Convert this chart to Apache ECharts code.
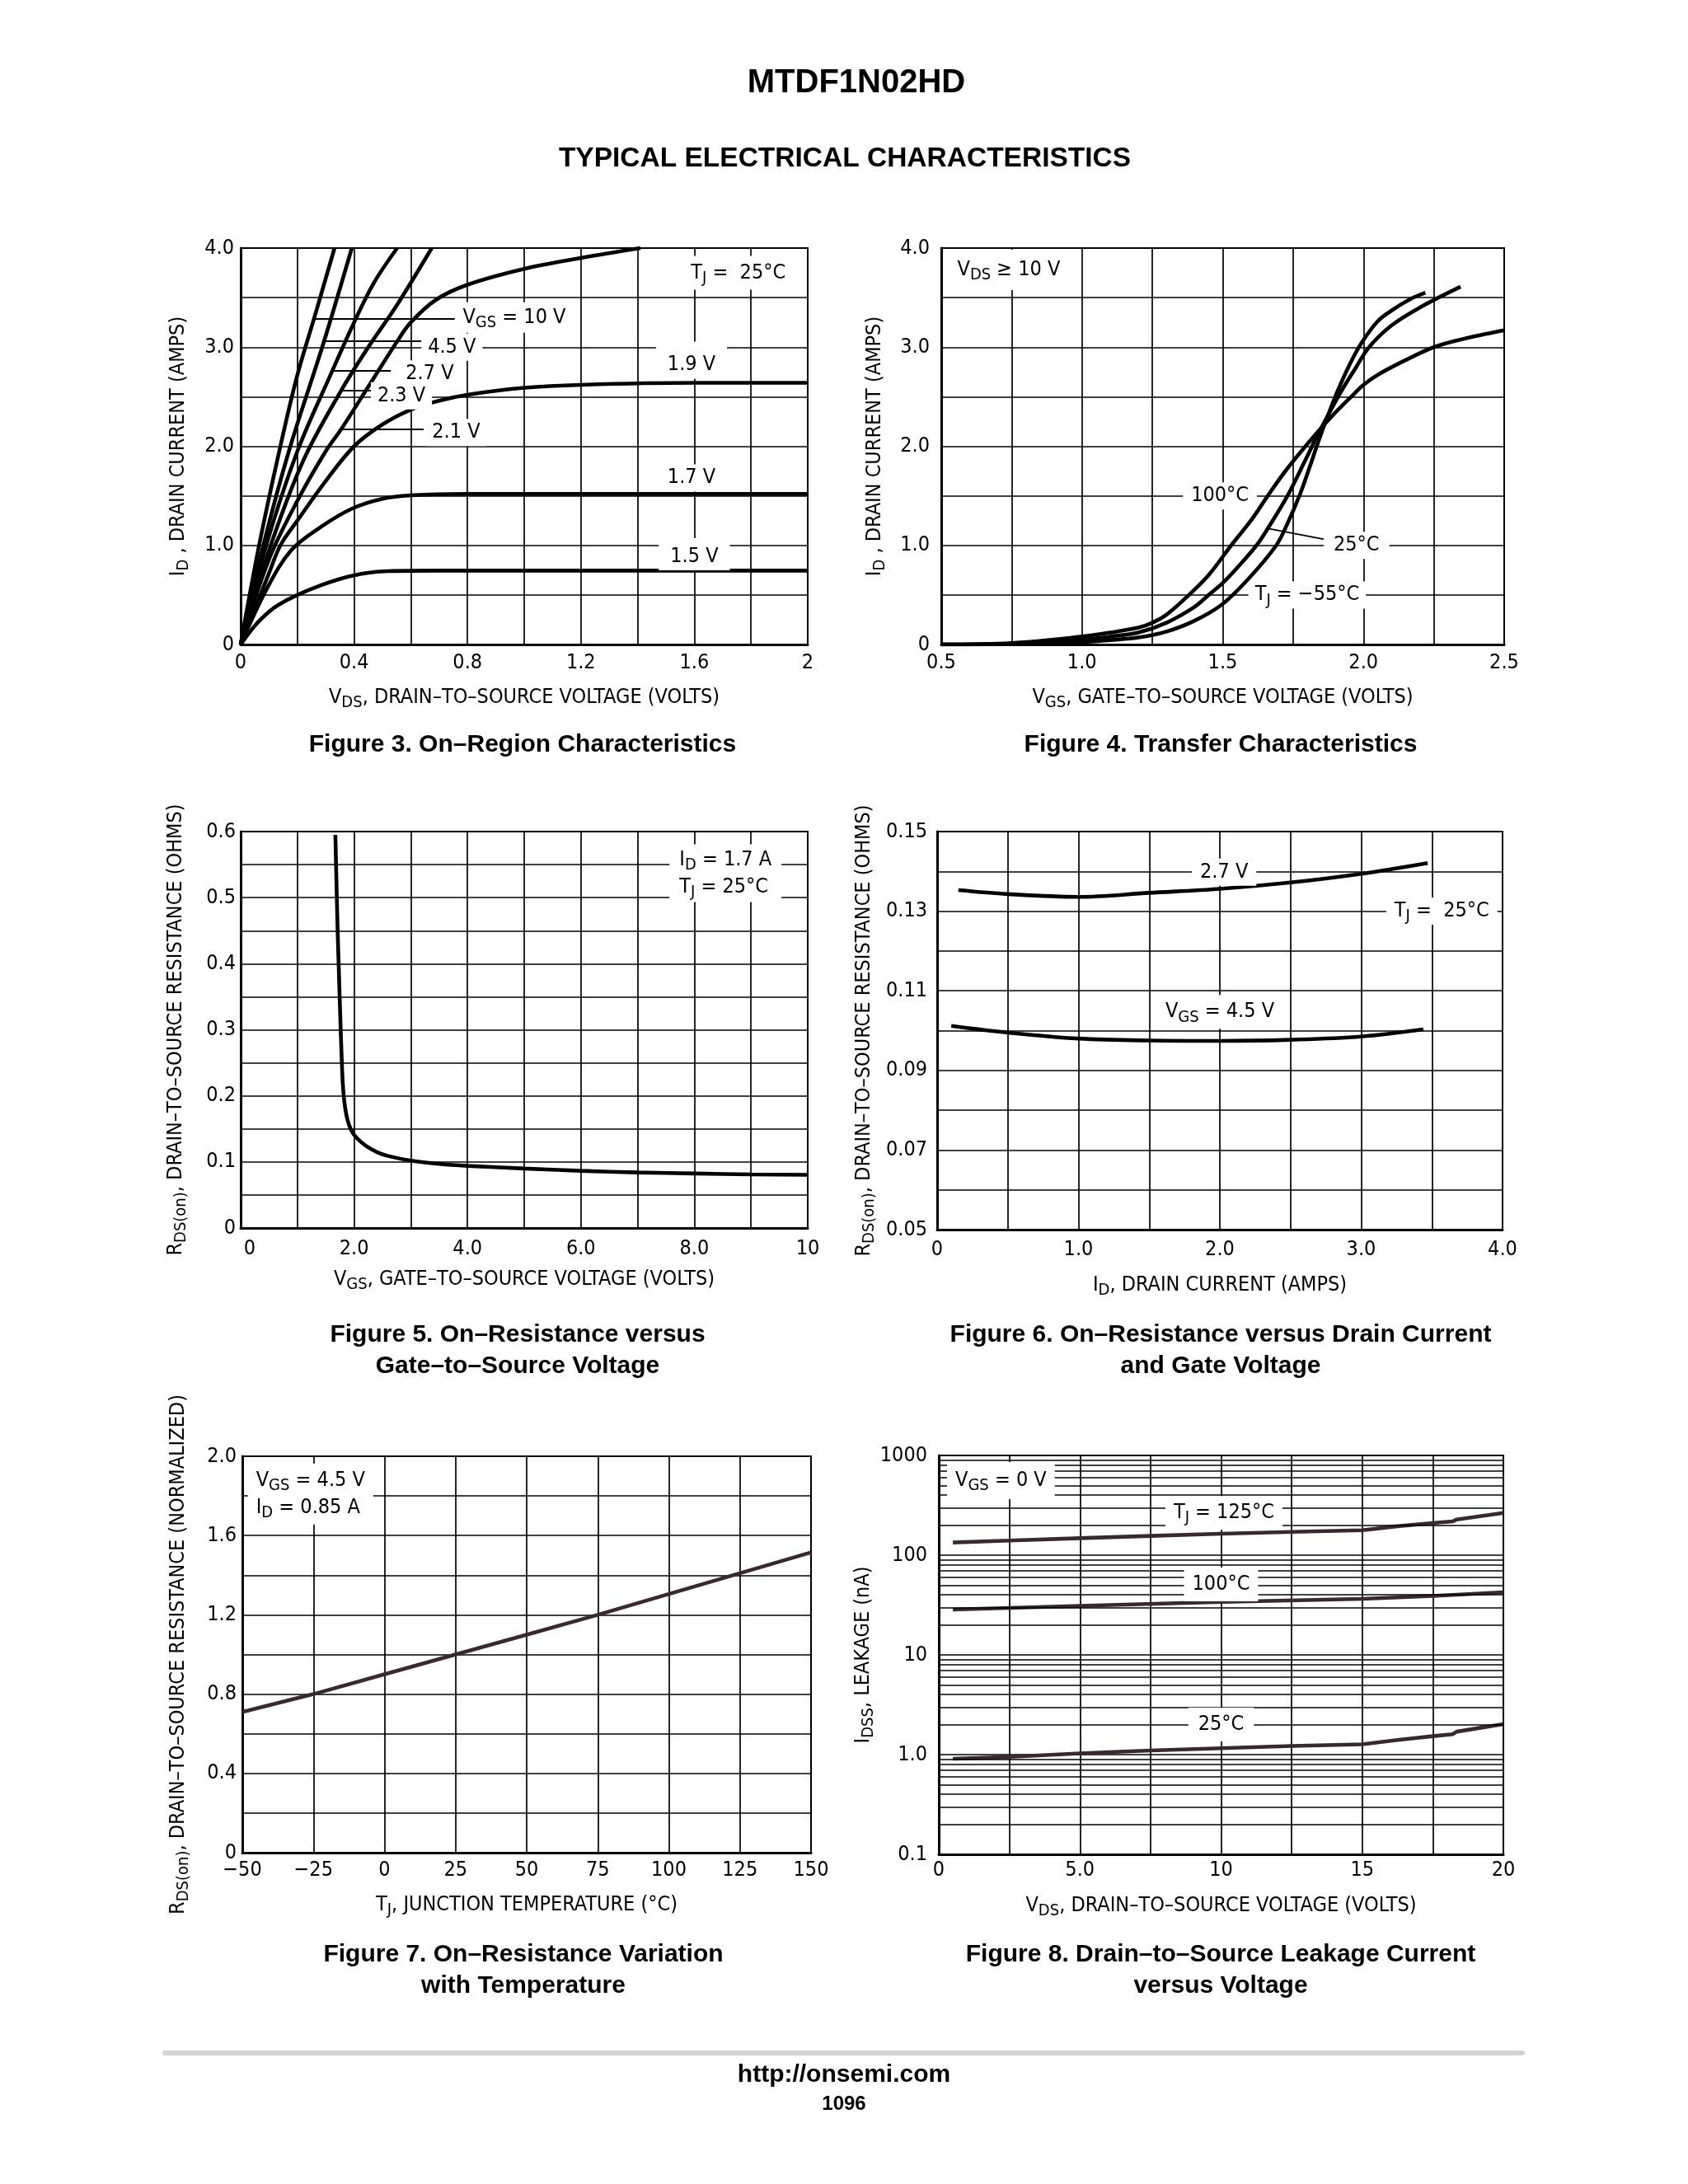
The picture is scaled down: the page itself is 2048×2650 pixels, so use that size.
<!DOCTYPE html>
<html><head><meta charset="utf-8">
<script src="https://cdn.jsdelivr.net/npm/echarts@6.0.0/dist/echarts.min.js"></script>
<style>html,body{margin:0;padding:0;background:#fff}#c{width:2048px;height:2650px}</style>
</head><body><div id="c"></div>
<script>
// ================= DATA =================
// Figure 3: On-Region Characteristics  [VDS (V), ID (A)]
const fig3Vgs10 = [[0,0],[0.065,1.0],[0.14,2.0],[0.2,2.72],[0.26,3.3],[0.331,4.0]];
const fig3Vgs45 = [[0,0],[0.08,1.0],[0.17,1.95],[0.293,3.05],[0.392,4.0]];
const fig3Vgs27 = [[0,0],[0.09,1.0],[0.2,1.95],[0.323,2.76],[0.4,3.25],[0.47,3.65],[0.552,4.0]];
const fig3Vgs23 = [[0,0],[0.1,0.95],[0.22,1.85],[0.354,2.56],[0.45,3.0],[0.55,3.42],[0.674,4.0]];
const fig3Vgs21 = [[0,0],[0.1,0.86],[0.2,1.45],[0.3,1.95],[0.354,2.17],[0.45,2.6],[0.55,3.05],[0.6,3.25],[0.69,3.48],[0.8,3.63],[1.0,3.79],[1.2,3.9],[1.41,4.0]];
const fig3Vgs19 = [[0,0],[0.1,0.72],[0.14,1.0],[0.2,1.25],[0.3,1.65],[0.4,2.0],[0.5,2.22],[0.6,2.37],[0.7,2.46],[0.8,2.52],[1.0,2.59],[1.2,2.62],[1.6,2.64],[2.0,2.64]];
const fig3Vgs17 = [[0,0],[0.09,0.55],[0.178,0.95],[0.285,1.19],[0.392,1.37],[0.5,1.47],[0.6,1.505],[0.8,1.52],[2.0,1.52]];
const fig3Vgs15 = [[0,0],[0.05,0.19],[0.1,0.33],[0.133,0.4],[0.2,0.5],[0.285,0.6],[0.36,0.67],[0.44,0.72],[0.52,0.74],[0.7,0.745],[2.0,0.745]];
// Figure 4: Transfer Characteristics  [VGS (V), ID (A)]
const fig4T100 = [[0.5,0],[0.75,0.015],[1.0,0.08],[1.1,0.12],[1.2,0.17],[1.25,0.22],[1.3,0.3],[1.38,0.5],[1.45,0.7],[1.53,1.0],[1.6,1.25],[1.66,1.5],[1.72,1.74],[1.8,2.02],[1.88,2.28],[1.967,2.53],[2.0,2.62],[2.05,2.72],[2.15,2.87],[2.25,3.0],[2.35,3.08],[2.5,3.17]];
const fig4T25 = [[0.5,0],[0.75,0.008],[1.0,0.05],[1.1,0.08],[1.2,0.12],[1.3,0.22],[1.4,0.38],[1.45,0.5],[1.5,0.62],[1.55,0.77],[1.62,1.0],[1.66,1.17],[1.73,1.5],[1.79,1.84],[1.84,2.13],[1.92,2.55],[1.97,2.78],[2.02,3.0],[2.1,3.22],[2.2,3.4],[2.345,3.61]];
const fig4Tm55 = [[0.5,0],[0.75,0.004],[1.0,0.025],[1.1,0.045],[1.2,0.07],[1.3,0.13],[1.4,0.24],[1.5,0.41],[1.6,0.69],[1.69,1.0],[1.73,1.22],[1.775,1.52],[1.81,1.8],[1.84,2.05],[1.875,2.32],[1.91,2.57],[1.95,2.82],[1.99,3.03],[2.05,3.26],[2.1,3.37],[2.17,3.49],[2.22,3.55]];
// Figure 5: RDS(on) vs VGS  [VGS (V), R (ohm)]
const fig5Rds = [[1.67,0.595],[1.69,0.52],[1.71,0.45],[1.735,0.38],[1.76,0.31],[1.78,0.26],[1.8,0.22],[1.83,0.19],[1.88,0.165],[1.95,0.148],[2.05,0.136],[2.2,0.125],[2.4,0.115],[2.6,0.109],[3.0,0.102],[3.5,0.097],[4.0,0.094],[5.0,0.09],[6.0,0.0865],[7.0,0.084],[8.0,0.0825],[9.0,0.081],[10.0,0.0805]];
// Figure 6: RDS(on) vs ID  [ID (A), R (ohm)]
const fig6Vgs27 = [[0.15,0.1353],[0.5,0.1343],[1.0,0.1336],[1.5,0.1346],[2.0,0.1356],[2.5,0.1372],[3.0,0.1394],[3.47,0.1421]];
const fig6Vgs45 = [[0.1,0.1012],[0.5,0.0995],[1.0,0.098],[1.5,0.0975],[2.0,0.0974],[2.5,0.0977],[3.0,0.0985],[3.44,0.1003]];
// Figure 7: normalized RDS(on) vs TJ  [TJ (C), R norm]
const fig7Rn = [[-50,0.71],[-25,0.80],[0,0.90],[25,1.0],[50,1.1],[75,1.2],[100,1.305],[125,1.41],[150,1.515]];
// Figure 8: IDSS vs VDS  [VDS (V), IDSS (nA)]
const fig8T125 = [[0.5,134],[2.5,140],[5,148],[7.5,156],[10,164],[12.5,171],[15,178],[16.25,195],[17.5,210],[18.2,218],[18.35,228],[20,265]];
const fig8T100 = [[0.5,28.5],[5,31],[10,34],[15,36.5],[17.5,39],[20,42.5]];
const fig8T25 = [[0.5,0.91],[2.5,0.95],[5,1.03],[7.5,1.1],[10,1.16],[12.5,1.22],[15,1.27],[16.25,1.4],[17.5,1.53],[18.2,1.6],[18.35,1.7],[20,2.02]];

// Tick labels
const fig3XTicks = [0,0.4,0.8,1.2,1.6,2], fig3XText = ['0','0.4','0.8','1.2','1.6','2'];
const fig3YTicks = [0,1,2,3,4], fig3YText = ['0','1.0','2.0','3.0','4.0'];
const fig4XTicks = [0.5,1,1.5,2,2.5], fig4XText = ['0.5','1.0','1.5','2.0','2.5'];
const fig5XTicks = [0,2,4,6,8,10], fig5XText = ['{z|0}','2.0','4.0','6.0','8.0','10'];
const fig5YTicks = [0,0.1,0.2,0.3,0.4,0.5,0.6], fig5YText = ['0','0.1','0.2','0.3','0.4','0.5','0.6'];
const fig6XTicks = [0,1,2,3,4], fig6XText = ['0','1.0','2.0','3.0','4.0'];
const fig6YTicks = [0.05,0.07,0.09,0.11,0.13,0.15], fig6YText = ['0.05','0.07','0.09','0.11','0.13','0.15'];
const fig7XTicks = [-50,-25,0,25,50,75,100,125,150], fig7XText = ['\u221250','\u221225','0','25','50','75','100','125','150'];
const fig7YTicks = [0,0.4,0.8,1.2,1.6,2.0], fig7YText = ['0','0.4','0.8','1.2','1.6','2.0'];
const fig8XTicks = [0,5,10,15,20], fig8XText = ['0','5.0','10','15','20'];
const fig8YTicks = [0.1,1,10,100,1000], fig8YText = ['0.1','1.0','10','100','1000'];

// ================= STYLE / BUILD =================
const FF = '"Liberation Sans", Arial, Helvetica, sans-serif';
const FN = '"DejaVu Sans Condensed", "Liberation Sans Narrow", sans-serif';
const FS = 25;
const INK = '#000';
const CURVE2 = '#3a2830';
const RICH = {
  n: {fontSize: FS, fontFamily: FN, color: INK, lineHeight: 33, align: 'left'},
  s: {fontSize: 20, fontFamily: FN, color: INK, lineHeight: 20, verticalAlign: 'bottom', align: 'left'},
  z: {fontSize: FS, fontFamily: FN, color: INK, padding: [0, 0, 0, 22]}
};
function fmt(t, s) {
  return function (v) {
    for (let i = 0; i < t.length; i++) if (Math.abs(v - t[i]) < 1e-7 * Math.max(1, Math.abs(t[i]))) return s[i];
    return '';
  };
}
function fmtLog(t, s) {
  return function (v) {
    for (let i = 0; i < t.length; i++) if (Math.abs(Math.log10(v) - Math.log10(t[i])) < 1e-6) return s[i];
    return '';
  };
}
function axis(gi, o) {
  const a = {
    type: o.type || 'value', gridIndex: gi, min: o.min, max: o.max,
    axisLine: {show: true, onZero: false, lineStyle: {color: INK, width: 3}},
    axisTick: {show: false},
    splitLine: {show: true, lineStyle: {color: '#000', width: 1.7}},
    axisLabel: {fontSize: FS, color: INK, fontFamily: FN, margin: o.margin, formatter: o.formatter, showMinLabel: true, showMaxLabel: true, rich: RICH},
    name: o.name, nameLocation: 'middle', nameGap: o.gap, nameRotate: o.rotate || 0,
    nameTextStyle: {fontSize: FS, color: INK, fontFamily: FN, rich: RICH}
  };
  if (o.interval !== undefined) a.interval = o.interval;
  if (o.type === 'log') a.logBase = 10;
  return a;
}
function curve(gi, data, color, smooth) {
  return {type: 'line', xAxisIndex: gi, yAxisIndex: gi, data: data, showSymbol: false, symbol: 'none',
    smooth: smooth === undefined ? 0.35 : smooth, z: 3, silent: true, animation: false,
    lineStyle: {color: color || INK, width: 4.6}};
}
function note(gi, x, y, text, pad) {
  return {type: 'scatter', xAxisIndex: gi, yAxisIndex: gi, z: 10, silent: true, animation: false,
    symbol: 'circle', symbolSize: 1, itemStyle: {color: '#fff', opacity: 1}, data: [[x, y]],
    label: {show: true, position: 'inside', formatter: text, color: INK, fontFamily: FN, fontSize: FS,
      backgroundColor: '#ffffff', opacity: 1, padding: pad || [2, 10], rich: RICH}};
}
function arrows(gi, segs) {
  return {type: 'line', xAxisIndex: gi, yAxisIndex: gi, data: [], z: 4, silent: true, animation: false,
    markLine: {silent: true, animation: false, symbol: ['none', 'arrow'], symbolSize: [0, 15],
      label: {show: false}, lineStyle: {color: INK, width: 1.8, type: 'solid'},
      data: segs.map(s => [{coord: [s[0], s[1]]}, {coord: [s[2], s[3]]}])}};
}
// minor log gridlines (2..9 per decade) for figure 8
const logMinor = [];
for (let d = -1; d < 3; d++) for (let m = 2; m <= 9; m++) logMinor.push(m * Math.pow(10, d));

const grids = [
  {left: 292, top: 301, width: 688, height: 481},
  {left: 1142, top: 301, width: 683, height: 481},
  {left: 292, top: 1009, width: 688, height: 481},
  {left: 1137, top: 1009, width: 686, height: 483},
  {left: 294, top: 1767, width: 690, height: 481},
  {left: 1139, top: 1766, width: 685, height: 484}
].map(g => Object.assign({show: true, borderColor: INK, borderWidth: 2, backgroundColor: '#fff'}, g));

const xAxes = [
  axis(0, {min: 0, max: 2, interval: 0.2, margin: 10, formatter: fmt(fig3XTicks, fig3XText), gap: 48,
    name: '{n|V}{s|DS}{n|, DRAIN\u2013TO\u2013SOURCE VOLTAGE (VOLTS)}'}),
  axis(1, {min: 0.5, max: 2.5, interval: 0.25, margin: 10, formatter: fmt(fig4XTicks, fig4XText), gap: 48,
    name: '{n|V}{s|GS}{n|, GATE\u2013TO\u2013SOURCE VOLTAGE (VOLTS)}'}),
  axis(2, {min: 0, max: 10, interval: 1, margin: 13, formatter: fmt(fig5XTicks, fig5XText), gap: 46,
    name: '{n|V}{s|GS}{n|, GATE\u2013TO\u2013SOURCE VOLTAGE (VOLTS)}'}),
  axis(3, {min: 0, max: 4, interval: 0.5, margin: 12, formatter: fmt(fig6XTicks, fig6XText), gap: 51,
    name: '{n|I}{s|D}{n|, DRAIN CURRENT (AMPS)}'}),
  axis(4, {min: -50, max: 150, interval: 25, margin: 9, formatter: fmt(fig7XTicks, fig7XText), gap: 47,
    name: '{n|T}{s|J}{n|, JUNCTION TEMPERATURE (\u00b0C)}'}),
  axis(5, {min: 0, max: 20, interval: 2.5, margin: 7, formatter: fmt(fig8XTicks, fig8XText), gap: 46,
    name: '{n|V}{s|DS}{n|, DRAIN\u2013TO\u2013SOURCE VOLTAGE (VOLTS)}'})
];
const yAxes = [
  axis(0, {min: 0, max: 4, interval: 0.5, margin: 8, formatter: fmt(fig3YTicks, fig3YText), gap: 59, rotate: 90,
    name: '{n|I}{s|D}{n| , DRAIN CURRENT (AMPS)}'}),
  axis(1, {min: 0, max: 4, interval: 0.5, margin: 14, formatter: fmt(fig3YTicks, fig3YText), gap: 64, rotate: 90,
    name: '{n|I}{s|D}{n| , DRAIN CURRENT (AMPS)}'}),
  axis(2, {min: 0, max: 0.6, interval: 0.05, margin: 6, formatter: fmt(fig5YTicks, fig5YText), gap: 62, rotate: 90,
    name: '{n|R}{s|DS(on)}{n|, DRAIN\u2013TO\u2013SOURCE RESISTANCE (OHMS)}'}),
  axis(3, {min: 0.05, max: 0.15, interval: 0.01, margin: 12, formatter: fmt(fig6YTicks, fig6YText), gap: 72, rotate: 90,
    name: '{n|R}{s|DS(on)}{n|, DRAIN\u2013TO\u2013SOURCE RESISTANCE (OHMS)}'}),
  axis(4, {min: 0, max: 2, interval: 0.2, margin: 7, formatter: fmt(fig7YTicks, fig7YText), gap: 61, rotate: 90,
    name: '{n|R}{s|DS(on)}{n|, DRAIN\u2013TO\u2013SOURCE RESISTANCE (NORMALIZED)}'}),
  axis(5, {type: 'log', min: 0.1, max: 1000, margin: 14, formatter: fmtLog(fig8YTicks, fig8YText), gap: 64, rotate: 90,
    name: '{n|I}{s|DSS}{n|, LEAKAGE (nA)}'})
];

const series = [
  // minor log gridlines
  {type: 'line', xAxisIndex: 5, yAxisIndex: 5, data: [], z: 2, silent: true, animation: false,
    markLine: {silent: true, animation: false, symbol: 'none', label: {show: false},
      lineStyle: {color: '#000', width: 1.5, type: 'solid'}, data: logMinor.map(v => ({yAxis: v}))}},
  // Fig 3
  curve(0, fig3Vgs10), curve(0, fig3Vgs45), curve(0, fig3Vgs27), curve(0, fig3Vgs23),
  curve(0, fig3Vgs21), curve(0, fig3Vgs19), curve(0, fig3Vgs17), curve(0, fig3Vgs15),
  arrows(0, [[0.755, 3.29, 0.262, 3.29], [0.64, 3.06, 0.295, 3.06], [0.53, 2.76, 0.325, 2.76],
             [0.46, 2.56, 0.356, 2.56], [0.645, 2.17, 0.356, 2.17]]),
  note(0, 1.755, 3.75, '{n|T}{s|J}{n| =  25\u00b0C}', [4, 8]),
  note(0, 0.965, 3.3, '{n|V}{s|GS}{n| = 10 V}', [2, 8]),
  note(0, 0.745, 3.0, '{n|4.5 V}', [0, 8]),
  note(0, 0.667, 2.73, '{n|2.7 V}', [0, 8]),
  note(0, 0.567, 2.51, '{n|2.3 V}', [0, 8]),
  note(0, 0.76, 2.14, '{n|2.1 V}', [0, 8]),
  note(0, 1.59, 2.87, '{n|1.9 V}', [12, 14, 0, 14]),
  note(0, 1.59, 1.68, '{n|1.7 V}', [0, 14]),
  note(0, 1.60, 0.91, '{n|1.5 V}', [6, 14, 0, 14]),
  // Fig 4
  curve(1, fig4T100), curve(1, fig4T25), curve(1, fig4Tm55),
  arrows(1, [[1.865, 1.06, 1.662, 1.17]]),
  note(1, 0.74, 3.78, '{n|V}{s|DS}{n| \u2265 10 V}', [8, 8]),
  note(1, 1.49, 1.5, '{n|100\u00b0C}', [0, 10]),
  note(1, 1.975, 1.0, '{n|25\u00b0C}', [0, 12]),
  note(1, 1.80, 0.5, '{n|T}{s|J}{n| = \u221255\u00b0C}', [0, 8]),
  // Fig 5
  curve(2, fig5Rds, INK, 0.25),
  note(2, 8.55, 0.537, '{n|I}{s|D}{n| = 1.7 A}\n{n|T}{s|J}{n| = 25\u00b0C}', [2, 12]),
  // Fig 6
  curve(3, fig6Vgs27), curve(3, fig6Vgs45),
  note(3, 2.03, 0.1398, '{n|2.7 V}', [0, 10]),
  note(3, 3.57, 0.13, '{n|T}{s|J}{n| =  25\u00b0C}', [0, 10]),
  note(3, 2.0, 0.1047, '{n|V}{s|GS}{n| = 4.5 V}', [4, 10]),
  // Fig 7
  curve(4, fig7Rn, CURVE2, 0),
  note(4, -26, 1.81, '{n|V}{s|GS}{n| = 4.5 V}\n{n|I}{s|D}{n| = 0.85 A}', [4, 10]),
  // Fig 8
  curve(5, fig8T125, CURVE2, 0), curve(5, fig8T100, CURVE2, 0), curve(5, fig8T25, CURVE2, 0),
  note(5, 2.2, 560, '{n|V}{s|GS}{n| = 0 V}', [6, 10]),
  note(5, 10.1, 265, '{n|T}{s|J}{n| = 125\u00b0C}', [4, 10]),
  note(5, 10.0, 51, '{n|100\u00b0C}', [4, 10]),
  note(5, 10.0, 2.0, '{n|25\u00b0C}', [4, 12])
];

function txt(x, y, text, size, bold) {
  return {type: 'text', x: x, y: y, silent: true,
    style: {text: text, fill: INK, font: (bold ? 'bold ' : '') + size + 'px ' + FF,
      textAlign: 'center', textVerticalAlign: 'middle', align: 'center', verticalAlign: 'middle'}};
}
const graphic = [
  txt(1039, 101, 'MTDF1N02HD', 40, true),
  txt(1025, 193, 'TYPICAL ELECTRICAL CHARACTERISTICS', 33.5, true),
  txt(634, 904, 'Figure 3. On\u2013Region Characteristics', 30, true),
  txt(1481, 904, 'Figure 4. Transfer Characteristics', 30, true),
  txt(628, 1620, 'Figure 5. On\u2013Resistance versus', 30, true),
  txt(628, 1658, 'Gate\u2013to\u2013Source Voltage', 30, true),
  txt(1481, 1620, 'Figure 6. On\u2013Resistance versus Drain Current', 30, true),
  txt(1481, 1658, 'and Gate Voltage', 30, true),
  txt(635, 2372, 'Figure 7. On\u2013Resistance Variation', 30, true),
  txt(635, 2410, 'with Temperature', 30, true),
  txt(1481, 2372, 'Figure 8. Drain\u2013to\u2013Source Leakage Current', 30, true),
  txt(1481, 2410, 'versus Voltage', 30, true),
  {type: 'line', silent: true, shape: {x1: 200, y1: 2491, x2: 1847, y2: 2491},
    style: {stroke: '#d4d4d8', lineWidth: 6, lineCap: 'round'}},
  txt(1024, 2518, 'http://onsemi.com', 30, true),
  txt(1024, 2553, '1096', 24, true)
];

const chart = echarts.init(document.getElementById('c'), null, {renderer: 'canvas'});
chart.setOption({
  backgroundColor: '#fff', animation: false,
  textStyle: {fontFamily: FF},
  grid: grids, xAxis: xAxes, yAxis: yAxes, series: series, graphic: graphic
});
</script></body></html>
